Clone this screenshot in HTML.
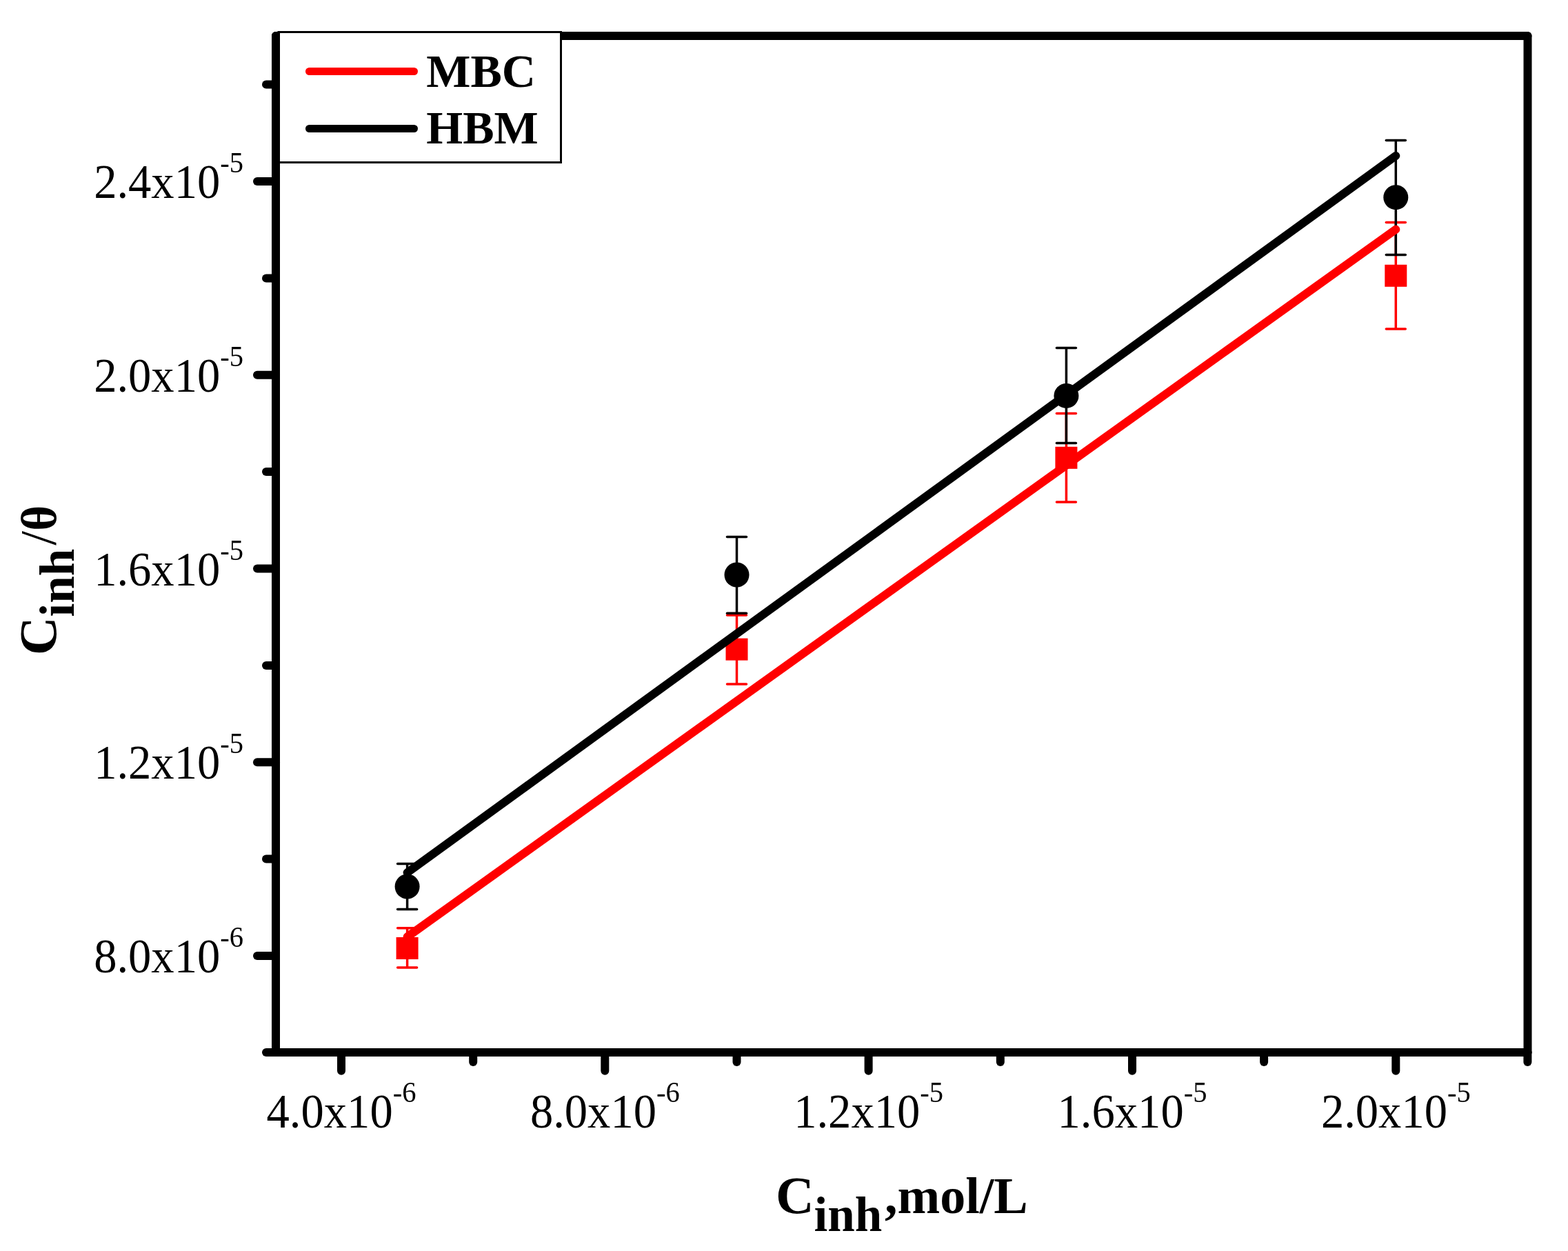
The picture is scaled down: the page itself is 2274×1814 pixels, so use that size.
<!DOCTYPE html><html><head><meta charset="utf-8"><style>html,body{margin:0;padding:0;background:#fff;}svg{display:block;}</style></head><body>
<svg width="2274" height="1814" viewBox="0 0 2274 1814">
<rect x="0" y="0" width="2274" height="1814" fill="#fff"/>
<g stroke="#000" stroke-width="12" stroke-linecap="round" fill="none">
<line x1="400" y1="52" x2="400" y2="1526"/>
<line x1="400" y1="52" x2="2215.5" y2="52"/>
<line x1="2215.5" y1="52" x2="2215.5" y2="1526"/>
<line x1="386" y1="1526" x2="2215.5" y2="1526"/>
<line x1="373" y1="1386.0" x2="400" y2="1386.0"/>
<line x1="373" y1="1105.2" x2="400" y2="1105.2"/>
<line x1="373" y1="824.5" x2="400" y2="824.5"/>
<line x1="373" y1="543.8" x2="400" y2="543.8"/>
<line x1="373" y1="263.0" x2="400" y2="263.0"/>
<line x1="386" y1="1245.6" x2="400" y2="1245.6"/>
<line x1="386" y1="964.9" x2="400" y2="964.9"/>
<line x1="386" y1="684.1" x2="400" y2="684.1"/>
<line x1="386" y1="403.4" x2="400" y2="403.4"/>
<line x1="386" y1="122.6" x2="400" y2="122.6"/>
<line x1="495.0" y1="1526" x2="495.0" y2="1552.7"/>
<line x1="877.3" y1="1526" x2="877.3" y2="1552.7"/>
<line x1="1259.6" y1="1526" x2="1259.6" y2="1552.7"/>
<line x1="1642.0" y1="1526" x2="1642.0" y2="1552.7"/>
<line x1="2024.3" y1="1526" x2="2024.3" y2="1552.7"/>
<line x1="686.2" y1="1526" x2="686.2" y2="1540"/>
<line x1="1068.5" y1="1526" x2="1068.5" y2="1540"/>
<line x1="1450.8" y1="1526" x2="1450.8" y2="1540"/>
<line x1="1833.1" y1="1526" x2="1833.1" y2="1540"/>
<line x1="2215.4" y1="1526" x2="2215.4" y2="1540"/>
</g>
<g font-family="Liberation Serif, serif" font-size="69" fill="#000">
<text transform="translate(353,1410.0) scale(0.965,1)" text-anchor="end">8.0x10<tspan font-size="42" dy="-37">-6</tspan></text>
<text transform="translate(353,1129.2) scale(0.965,1)" text-anchor="end">1.2x10<tspan font-size="42" dy="-37">-5</tspan></text>
<text transform="translate(353,848.5) scale(0.965,1)" text-anchor="end">1.6x10<tspan font-size="42" dy="-37">-5</tspan></text>
<text transform="translate(353,567.8) scale(0.965,1)" text-anchor="end">2.0x10<tspan font-size="42" dy="-37">-5</tspan></text>
<text transform="translate(353,287.0) scale(0.965,1)" text-anchor="end">2.4x10<tspan font-size="42" dy="-37">-5</tspan></text>
<text transform="translate(495.0,1635) scale(0.965,1)" text-anchor="middle">4.0x10<tspan font-size="42" dy="-37">-6</tspan></text>
<text transform="translate(877.3,1635) scale(0.965,1)" text-anchor="middle">8.0x10<tspan font-size="42" dy="-37">-6</tspan></text>
<text transform="translate(1259.6,1635) scale(0.965,1)" text-anchor="middle">1.2x10<tspan font-size="42" dy="-37">-5</tspan></text>
<text transform="translate(1642.0,1635) scale(0.965,1)" text-anchor="middle">1.6x10<tspan font-size="42" dy="-37">-5</tspan></text>
<text transform="translate(2024.3,1635) scale(0.965,1)" text-anchor="middle">2.0x10<tspan font-size="42" dy="-37">-5</tspan></text>
</g>
<g font-family="Liberation Serif, serif" font-weight="bold" font-size="75" fill="#000">
<text x="1125" y="1759"><tspan font-size="77">C</tspan><tspan dy="26" font-size="71">inh</tspan><tspan dy="-26" dx="3.7" font-size="74">,mol/L</tspan></text>
<text transform="translate(81,950) rotate(-90)" x="0" y="0"><tspan font-size="77">C</tspan><tspan dy="26" font-size="71">inh</tspan><tspan dy="-26" dx="5" font-weight="normal">/</tspan><tspan font-size="71">θ</tspan></text>
</g>
<line x1="590.6" y1="1345.8" x2="590.6" y2="1403" stroke="#ff0000" stroke-width="3.5"/><line x1="576.6" y1="1345.8" x2="604.6" y2="1345.8" stroke="#ff0000" stroke-width="3.5" stroke-linecap="round"/><line x1="576.6" y1="1403" x2="604.6" y2="1403" stroke="#ff0000" stroke-width="3.5" stroke-linecap="round"/>
<line x1="1068.5" y1="892.1" x2="1068.5" y2="992.1" stroke="#ff0000" stroke-width="3.5"/><line x1="1054.5" y1="892.1" x2="1082.5" y2="892.1" stroke="#ff0000" stroke-width="3.5" stroke-linecap="round"/><line x1="1054.5" y1="992.1" x2="1082.5" y2="992.1" stroke="#ff0000" stroke-width="3.5" stroke-linecap="round"/>
<line x1="1546.4" y1="599.5" x2="1546.4" y2="728" stroke="#ff0000" stroke-width="3.5"/><line x1="1532.4" y1="599.5" x2="1560.4" y2="599.5" stroke="#ff0000" stroke-width="3.5" stroke-linecap="round"/><line x1="1532.4" y1="728" x2="1560.4" y2="728" stroke="#ff0000" stroke-width="3.5" stroke-linecap="round"/>
<line x1="2024.3" y1="322.4" x2="2024.3" y2="476.9" stroke="#ff0000" stroke-width="3.5"/><line x1="2010.3" y1="322.4" x2="2038.3" y2="322.4" stroke="#ff0000" stroke-width="3.5" stroke-linecap="round"/><line x1="2010.3" y1="476.9" x2="2038.3" y2="476.9" stroke="#ff0000" stroke-width="3.5" stroke-linecap="round"/>
<rect x="574.6" y="1359.0" width="32" height="32" fill="#ff0000"/>
<rect x="1052.5" y="925.6" width="32" height="32" fill="#ff0000"/>
<rect x="1530.4" y="647.8" width="32" height="32" fill="#ff0000"/>
<rect x="2008.3" y="383.8" width="32" height="32" fill="#ff0000"/>
<line x1="590.6" y1="1252.4" x2="590.6" y2="1318.5" stroke="#000" stroke-width="3.5"/><line x1="576.6" y1="1252.4" x2="604.6" y2="1252.4" stroke="#000" stroke-width="3.5" stroke-linecap="round"/><line x1="576.6" y1="1318.5" x2="604.6" y2="1318.5" stroke="#000" stroke-width="3.5" stroke-linecap="round"/>
<line x1="1068.5" y1="778.4" x2="1068.5" y2="889.2" stroke="#000" stroke-width="3.5"/><line x1="1054.5" y1="778.4" x2="1082.5" y2="778.4" stroke="#000" stroke-width="3.5" stroke-linecap="round"/><line x1="1054.5" y1="889.2" x2="1082.5" y2="889.2" stroke="#000" stroke-width="3.5" stroke-linecap="round"/>
<line x1="1546.4" y1="504.5" x2="1546.4" y2="642.5" stroke="#000" stroke-width="3.5"/><line x1="1532.4" y1="504.5" x2="1560.4" y2="504.5" stroke="#000" stroke-width="3.5" stroke-linecap="round"/><line x1="1532.4" y1="642.5" x2="1560.4" y2="642.5" stroke="#000" stroke-width="3.5" stroke-linecap="round"/>
<line x1="2024.3" y1="203.4" x2="2024.3" y2="369.6" stroke="#000" stroke-width="3.5"/><line x1="2010.3" y1="203.4" x2="2038.3" y2="203.4" stroke="#000" stroke-width="3.5" stroke-linecap="round"/><line x1="2010.3" y1="369.6" x2="2038.3" y2="369.6" stroke="#000" stroke-width="3.5" stroke-linecap="round"/>
<circle cx="590.6" cy="1285.5" r="18" fill="#000"/>
<circle cx="1068.5" cy="833.5" r="18" fill="#000"/>
<circle cx="1546.4" cy="573.9" r="18" fill="#000"/>
<circle cx="2024.3" cy="286.2" r="18" fill="#000"/>
<line x1="590.6" y1="1358.5" x2="2024.3" y2="332.7" stroke="#ff0000" stroke-width="12" stroke-linecap="round"/>
<line x1="590.6" y1="1265.3" x2="2024.3" y2="225.9" stroke="#000" stroke-width="12" stroke-linecap="round"/>
<rect x="404" y="46.5" width="409.5" height="189" fill="#fff" stroke="#000" stroke-width="3"/>
<rect x="394" y="52" width="12" height="250" fill="#000"/><circle cx="400" cy="52" r="6" fill="#000"/><rect x="400" y="46" width="6" height="8" fill="#000"/>
<line x1="448.5" y1="103.5" x2="600.5" y2="103.5" stroke="#ff0000" stroke-width="11" stroke-linecap="round"/>
<line x1="448.5" y1="186.5" x2="600.5" y2="186.5" stroke="#000" stroke-width="11" stroke-linecap="round"/>
<g font-family="Liberation Serif, serif" font-weight="bold" font-size="68" fill="#000">
<text x="618.3" y="125.6">MBC</text><text x="618.3" y="208.3">HBM</text>
</g>
</svg></body></html>
